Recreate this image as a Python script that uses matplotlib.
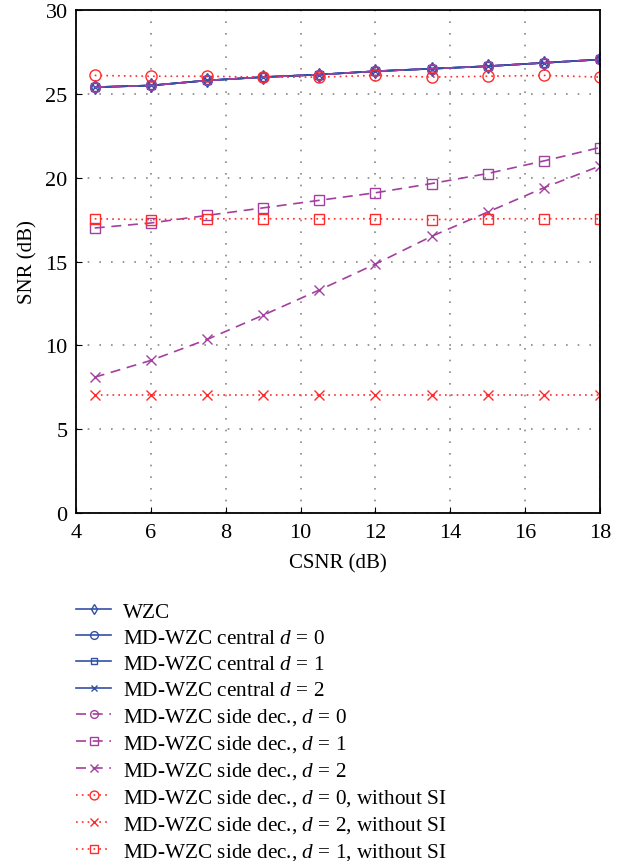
import numpy as np
import matplotlib
matplotlib.use('Agg')
import matplotlib.pyplot as plt

plt.rcParams['font.family'] = ['Liberation Serif', 'DejaVu Serif']
plt.rcParams['mathtext.fontset'] = 'custom'
plt.rcParams['mathtext.it'] = 'Liberation Serif:italic'
plt.rcParams['mathtext.rm'] = 'Liberation Serif'

# CSNR values (dB)
csnr = [4.5, 6, 7.5, 9, 10.5, 12, 13.5, 15, 16.5, 18]

# SNR values (dB)
wzc         = [25.4, 25.5, 25.8, 26.0, 26.15, 26.35, 26.5, 26.65, 26.85, 27.05]
central_d0  = [25.4, 25.5, 25.8, 26.0, 26.15, 26.35, 26.5, 26.65, 26.85, 27.05]
central_d1  = [25.4, 25.5, 25.8, 26.0, 26.15, 26.35, 26.5, 26.65, 26.85, 27.05]
central_d2  = [25.4, 25.5, 25.8, 26.0, 26.15, 26.35, 26.5, 26.65, 26.85, 27.05]
side_d0     = [25.4, 25.5, 25.8, 26.0, 26.15, 26.35, 26.5, 26.65, 26.85, 27.05]
side_d1     = [17.0, 17.3, 17.75, 18.2, 18.65, 19.1, 19.65, 20.25, 21.0, 21.8]
side_d2     = [8.1, 9.1, 10.35, 11.8, 13.3, 14.85, 16.5, 17.95, 19.4, 20.7]
nosi_d0     = [26.1, 26.05, 26.05, 26.0, 26.0, 26.1, 26.0, 26.05, 26.1, 26.0]
nosi_d2     = [7.05, 7.05, 7.05, 7.05, 7.05, 7.05, 7.05, 7.05, 7.05, 7.05]
nosi_d1     = [17.55, 17.5, 17.55, 17.55, 17.55, 17.55, 17.5, 17.55, 17.55, 17.55]

blue = '#3350a8'
purple = '#a3409f'
red = '#ff2a2a'

fig = plt.figure(figsize=(6.24, 8.62), dpi=100)
ax = fig.add_axes([0.1218, 0.4037, 0.8397, 0.5835])

dots = (0, (1, 2.5))
ms = 7
ax.plot(csnr, wzc, '-', color=blue, marker='d', ms=ms, mfc='none', lw=1.2,
        label='WZC')
ax.plot(csnr, central_d0, '-', color=blue, marker='o', ms=ms, mfc='none', lw=1.2,
        label='MD-WZC central $d$ = 0')
ax.plot(csnr, central_d1, '-', color=blue, marker='s', ms=6, mfc='none', lw=1.2,
        label='MD-WZC central $d$ = 1')
ax.plot(csnr, central_d2, '-', color=blue, marker='x', ms=6, lw=1.2,
        label='MD-WZC central $d$ = 2')
ax.plot(csnr, side_d0, '--', color=purple, marker='o', ms=ms, mfc='none', lw=1.2,
        dashes=(6, 4), label='MD-WZC side dec., $d$ = 0')
ax.plot(csnr, side_d1, '--', color=purple, marker='s', ms=ms, mfc='none', lw=1.2,
        dashes=(6, 4), label='MD-WZC side dec., $d$ = 1')
ax.plot(csnr, side_d2, '--', color=purple, marker='x', ms=ms, lw=1.2,
        dashes=(6, 4), label='MD-WZC side dec., $d$ = 2')
ax.plot(csnr, nosi_d0, color=red, marker='o', ms=ms + 1, mfc='none', lw=1.2,
        linestyle=dots, label='MD-WZC side dec., $d$ = 0, without SI')
ax.plot(csnr, nosi_d2, color=red, marker='x', ms=ms, lw=1.2,
        linestyle=dots, label='MD-WZC side dec., $d$ = 2, without SI')
ax.plot(csnr, nosi_d1, color=red, marker='s', ms=ms, mfc='none', lw=1.2,
        linestyle=dots, label='MD-WZC side dec., $d$ = 1, without SI')

ax.set_xlim(4, 18)
ax.set_ylim(0, 30)
ax.set_xticks(np.arange(4, 19, 2))
ax.set_yticks(np.arange(0, 31, 5))
ax.grid(True, color='#888888', linestyle=(0, (1, 6)), lw=1.2)
ax.tick_params(direction='in', labelsize=16, length=4, top=False, right=False)
ax.tick_params(axis='x', pad=7)
ax.tick_params(axis='y', pad=6)
for s in ax.spines.values():
    s.set_linewidth(1.3)
ax.set_xlabel('CSNR (dB)', fontsize=15, labelpad=8)
ax.set_ylabel('SNR (dB)', fontsize=15, labelpad=6)

handles, labels = ax.get_legend_handles_labels()
fig.legend(handles, labels, loc='upper left', bbox_to_anchor=(0.1218, 0.3005),
           frameon=False, fontsize=15.3, handlelength=1.65, handletextpad=0.56,
           labelspacing=0.29, borderpad=0, borderaxespad=0, numpoints=1,
           markerscale=0.8)

fig.savefig('out.png', dpi=100)
